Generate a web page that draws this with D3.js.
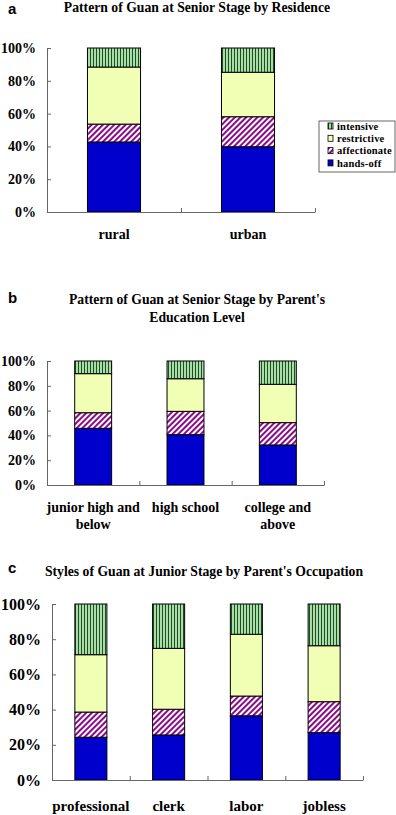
<!DOCTYPE html>
<html>
<head>
<meta charset="utf-8">
<script src="https://cdn.jsdelivr.net/npm/d3@7"></script>
<style>
  body { margin: 0; background: #fff; }
  text { font-family: "Liberation Serif", "Times New Roman", serif; font-weight: bold; fill: #000; }
  .letter { font-family: "Liberation Sans", Arial, sans-serif; }
  .axis path, .axis line { stroke: #666; }
</style>
</head>
<body>
<div id="chart"></div>
<script>
// Series (bottom to top of each stack)
const seriesNames = ["hands-off", "affectionate", "restrictive", "intensive"];

// Panel a: by residence
const residenceCats = ["rural", "urban"];
const residenceHandsOff = [42.7, 39.8];
const residenceAffectionate = [10.9, 18.3];
const residenceRestrictive = [34.8, 27.1];
const residenceIntensive = [11.6, 14.8];

// Panel b: by parent's education level
const educationCats = [["junior high and", "below"], ["high school"], ["college and", "above"]];
const educationHandsOff = [45.7, 40.6, 32.3];
const educationAffectionate = [12.6, 18.8, 18.0];
const educationRestrictive = [31.5, 26.3, 30.9];
const educationIntensive = [10.2, 14.3, 18.8];

// Panel c: by parent's occupation
const occupationCats = ["professional", "clerk", "labor", "jobless"];
const occupationHandsOff = [24.3, 25.6, 36.5, 26.9];
const occupationAffectionate = [14.3, 14.6, 11.2, 17.6];
const occupationRestrictive = [32.6, 34.6, 35.1, 31.8];
const occupationIntensive = [28.8, 25.2, 17.2, 23.7];

const yTicks = [0, 0.2, 0.4, 0.6, 0.8, 1];

const svg = d3.select("#chart")
    .append("svg")
    .attr("width", 396)
    .attr("height", 815);

// Fill patterns
const defs = svg.append("defs");

const vert = defs.append("pattern")
    .attr("id", "pat-intensive")
    .attr("patternUnits", "userSpaceOnUse")
    .attr("width", 3)
    .attr("height", 3);
vert.append("rect").attr("width", 3).attr("height", 3).attr("fill", "#a8dca8");
vert.append("rect").attr("width", 1).attr("height", 3).attr("fill", "#1f4f1f");

const diag = defs.append("pattern")
    .attr("id", "pat-affectionate")
    .attr("patternUnits", "userSpaceOnUse")
    .attr("width", 4)
    .attr("height", 4)
    .attr("patternTransform", "rotate(45)");
diag.append("rect").attr("width", 4).attr("height", 4).attr("fill", "#fff");
diag.append("rect").attr("width", 2).attr("height", 4).attr("fill", "#8a0a8a");

const fills = {
    "hands-off": "#0000cc",
    "affectionate": "url(#pat-affectionate)",
    "restrictive": "#f0ffb4",
    "intensive": "url(#pat-intensive)"
};

function buildRows(cats, a, b, c, d) {
    return cats.map((cat, i) => ({
        cat: Array.isArray(cat) ? cat.join(" ") : cat,
        lines: Array.isArray(cat) ? cat : [cat],
        "hands-off": a[i] / 100,
        "affectionate": b[i] / 100,
        "restrictive": c[i] / 100,
        "intensive": d[i] / 100
    }));
}

function drawPanel(opt) {
    const rows = buildRows(opt.cats, ...opt.values);
    const n = rows.length;

    // panel letter (baseline placed)
    svg.append("text")
        .attr("class", "letter")
        .attr("x", 8)
        .attr("y", opt.letterY)
        .style("font-size", "15px")
        .text(opt.letter);

    opt.title.forEach((line, i) => {
        svg.append("text")
            .attr("x", opt.titleX)
            .attr("y", opt.titleY + i * 18)
            .attr("dy", "0.35em")
            .attr("text-anchor", "middle")
            .style("font-size", opt.titleSize + "px")
            .text(line);
    });

    const xScale = d3.scaleBand()
        .domain(rows.map(d => d.cat))
        .range([opt.x0, opt.x1])
        .paddingInner(opt.pad)
        .paddingOuter(opt.pad / 2);

    const yScale = d3.scaleLinear()
        .domain([0, 1])
        .range([opt.yBottom, opt.yTop]);

    const stacked = d3.stack().keys(seriesNames)(rows);

    const g = svg.append("g");

    g.selectAll("g.series")
        .data(stacked)
        .join("g")
        .attr("class", "series")
        .attr("fill", d => fills[d.key])
        .selectAll("rect")
        .data(d => d)
        .join("rect")
        .attr("x", d => xScale(d.data.cat))
        .attr("width", xScale.bandwidth())
        .attr("y", d => yScale(Math.min(d[1], 1)))
        .attr("height", d => yScale(d[0]) - yScale(Math.min(d[1], 1)))
        .attr("stroke", "#000")
        .attr("stroke-width", 1);

    // y axis
    const yAxis = d3.axisLeft(yScale)
        .tickValues(yTicks)
        .tickFormat(d3.format(".0%"))
        .tickSize(-4)
        .tickPadding(11);

    const yAxisGroup = svg.append("g")
        .attr("class", "axis")
        .attr("transform", `translate(${opt.x0},0)`)
        .call(yAxis);
    yAxisGroup.selectAll("text")
        .style("font-size", opt.tickSize + "px")
        .style("font-family", "'Liberation Serif', serif")
        .style("font-weight", "bold");

    // x axis with ticks at category boundaries
    const xEdge = d3.scaleLinear().domain([0, n]).range([opt.x0, opt.x1]);
    svg.append("g")
        .attr("class", "axis")
        .attr("transform", `translate(0,${opt.yBottom})`)
        .call(d3.axisBottom(xEdge).tickValues(d3.range(n + 1)).tickFormat("").tickSize(-4).tickSizeOuter(0));

    // category labels
    rows.forEach(r => {
        r.lines.forEach((line, i) => {
            svg.append("text")
                .attr("x", xScale(r.cat) + xScale.bandwidth() / 2)
                .attr("y", opt.labelY + i * 17)
                .attr("dy", "0.35em")
                .attr("text-anchor", "middle")
                .style("font-size", opt.labelSize + "px")
                .text(line);
        });
    });
}

drawPanel({
    letter: "a", letterY: 14,
    title: ["Pattern of Guan at Senior Stage by Residence"], titleX: 197, titleY: 7, titleSize: 13.7,
    cats: residenceCats,
    values: [residenceHandsOff, residenceAffectionate, residenceRestrictive, residenceIntensive],
    x0: 47, x1: 315, yTop: 48, yBottom: 212, pad: 0.604,
    tickSize: 14, labelSize: 14, labelY: 234
});

drawPanel({
    letter: "b", letterY: 303,
    title: ["Pattern of Guan at Senior Stage by Parent's", "Education Level"], titleX: 197, titleY: 299, titleSize: 13.7,
    cats: educationCats,
    values: [educationHandsOff, educationAffectionate, educationRestrictive, educationIntensive],
    x0: 47, x1: 324, yTop: 361, yBottom: 485, pad: 0.6,
    tickSize: 14, labelSize: 14, labelY: 507
});

drawPanel({
    letter: "c", letterY: 573,
    title: ["Styles of Guan at Junior Stage by Parent's Occupation"], titleX: 204, titleY: 571, titleSize: 13.7,
    cats: occupationCats,
    values: [occupationHandsOff, occupationAffectionate, occupationRestrictive, occupationIntensive],
    x0: 52, x1: 363, yTop: 604, yBottom: 780, pad: 0.588,
    tickSize: 16, labelSize: 15, labelY: 806
});

// Legend (panel a)
const legend = svg.append("g").attr("transform", "translate(319,121)");
legend.append("rect")
    .attr("width", 76)
    .attr("height", 51)
    .attr("fill", "#fff")
    .attr("stroke", "#666");
seriesNames.slice().reverse().forEach((name, i) => {
    const row = legend.append("g").attr("transform", `translate(9,${2 + i * 12.3})`);
    row.append("rect")
        .attr("width", 5)
        .attr("height", 6)
        .attr("fill", fills[name])
        .attr("stroke", "#000")
        .attr("stroke-width", 0.8);
    row.append("text")
        .attr("x", 9)
        .attr("y", 3)
        .attr("dy", "0.35em")
        .style("font-size", "10.5px")
        .style("letter-spacing", "0.2px")
        .text(name);
});
</script>
</body>
</html>
